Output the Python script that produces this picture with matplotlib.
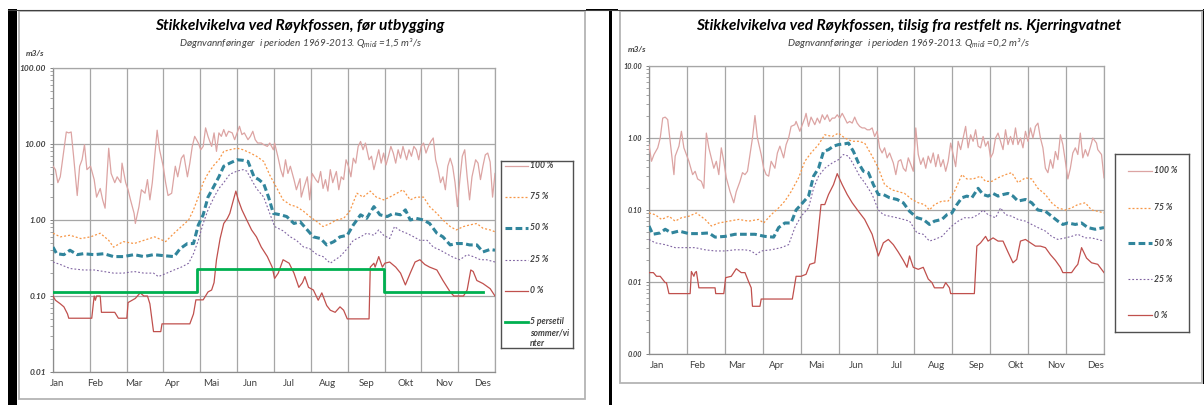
import matplotlib
matplotlib.use('Agg')
import matplotlib.pyplot as plt
from matplotlib.ticker import LogLocator, NullFormatter
from matplotlib.patches import Rectangle

plt.rcParams['font.family'] = ['Lato', 'DejaVu Sans']
plt.rcParams['mathtext.fontset'] = 'custom'
plt.rcParams['mathtext.rm'] = 'Lato:italic'
plt.rcParams['mathtext.it'] = 'Lato:italic'

W, H = 1204, 405

months = ['Jan', 'Feb', 'Mar', 'Apr', 'Mai', 'Jun', 'Jul', 'Aug', 'Sep', 'Okt', 'Nov', 'Des']
pct_labels = ['100 %', '75 %', '50 %', '25 %', '0 %']
green_label = ['5 persetil', 'sommer/vi', 'nter']

title1 = 'Stikkelvikelva ved Røykfossen, før utbygging'
subtitle1 = 'Døgnvannføringer  i perioden 1969-2013. $Q_{midi}$ =1,5 m³/s'
title2 = 'Stikkelvikelva ved Røykfossen, tilsig fra restfelt ns. Kjerringvatnet'
subtitle2 = 'Døgnvannføringer  i perioden 1969-2013. $Q_{midi}$ =0,2 m³/s'

# ---- venstre figur: før utbygging (m3/s, dag i året) ----
c1_d100 = [0, 2, 4, 6, 9, 11, 13, 15, 17, 20,
           22, 24, 26, 28, 31, 34, 36, 39, 41, 43,
           46, 48, 51, 53, 56, 57, 60, 62, 64, 67,
           68, 71, 73, 76, 78, 80, 82, 84, 86, 88,
           91, 93, 95, 98, 101, 103, 106, 108, 111, 113,
           115, 117, 120, 122, 124, 126, 128, 131, 133, 135,
           137, 139, 141, 143, 145, 148, 150, 152, 154, 156,
           158, 161, 163, 165, 167, 169, 172, 174, 177, 179,
           182, 183, 186, 188, 190, 192, 194, 196, 199, 201,
           204, 205, 207, 210, 212, 214, 217, 219, 221, 223,
           225, 227, 229, 231, 234, 236, 238, 240, 242, 244,
           246, 248, 250, 252, 254, 256, 258, 261, 263, 265,
           267, 269, 271, 273, 275, 277, 279, 281, 283, 285,
           287, 289, 292, 294, 296, 298, 300, 302, 304, 306,
           308, 310, 312, 314, 316, 318, 320, 322, 324, 326,
           328, 330, 332, 334, 336, 338, 340, 342, 344, 346,
           349, 351, 353, 355, 357, 359, 361, 363, 365]
c1_q100 = [5.1, 4.6, 3.1, 3.7, 8.4, 14.4, 14.0, 14.4, 6.9, 2.1,
           5.1, 6.2, 9.8, 4.6, 5.1, 3.4, 2.0, 2.6, 1.84, 1.43,
           8.8, 4.1, 3.1, 3.7, 3.1, 5.6, 3.1, 2.5, 1.84, 1.22,
           0.90, 1.5, 2.5, 2.25, 3.4, 1.84, 3.1, 6.9, 15.2, 8.4,
           5.1, 3.1, 2.1, 2.25, 5.1, 3.7, 6.5, 7.2, 3.7, 5.6,
           9.3, 12.6, 10.3, 8.4, 9.3, 16.3, 12.6, 9.3, 14.0, 8.0,
           14.0, 12.6, 15.5, 12.6, 14.7, 14.0, 11.4, 14.0, 17.1, 13.3,
           14.0, 11.4, 12.6, 14.7, 11.4, 10.3, 10.3, 9.8, 9.3, 10.3,
           8.4, 10.3, 6.5, 4.6, 3.7, 6.2, 4.1, 5.1, 3.4, 2.5,
           3.5, 2.0, 2.6, 3.7, 1.84, 4.1, 3.4, 3.1, 4.35, 2.6,
           3.4, 2.4, 4.6, 3.1, 4.35, 2.5, 3.7, 3.4, 6.2, 5.1,
           3.7, 6.5, 5.6, 9.3, 10.8, 8.4, 10.3, 6.2, 6.9, 4.6,
           6.2, 8.4, 5.6, 7.6, 5.3, 6.9, 9.3, 7.6, 5.6, 8.4,
           6.5, 9.3, 6.2, 8.4, 6.9, 9.3, 8.4, 6.2, 9.3, 10.3,
           7.6, 9.3, 10.8, 12.0, 6.2, 4.6, 3.1, 3.7, 2.5, 5.1,
           6.5, 5.1, 3.1, 1.5, 3.4, 6.9, 8.4, 3.7, 1.84, 3.7,
           6.2, 5.6, 3.4, 5.1, 7.2, 7.6, 5.8, 2.0, 4.1]

c1_d75 = [0, 6, 14, 23, 31, 39, 46, 50, 58, 67,
          75, 84, 93, 100, 106, 112, 116, 120, 124, 128,
          133, 137, 141, 146, 152, 157, 163, 168, 174, 179,
          185, 190, 196, 201, 207, 212, 218, 223, 229, 234,
          240, 245, 251, 256, 262, 267, 273, 278, 284, 289,
          295, 300, 306, 311, 317, 322, 328, 333, 339, 344,
          350, 355, 361, 365]
c1_q75 = [0.67, 0.60, 0.63, 0.57, 0.60, 0.67, 0.54, 0.44, 0.52, 0.49,
          0.54, 0.60, 0.52, 0.67, 0.82, 1.0, 1.36, 2.0, 3.1, 4.1,
          5.3, 6.2, 8.0, 8.4, 8.8, 8.4, 7.6, 6.9, 5.9, 3.9,
          2.6, 1.84, 1.58, 1.5, 1.3, 1.11, 0.95, 0.82, 0.9, 1.0,
          1.05, 1.3, 2.25, 2.0, 2.4, 2.0, 1.84, 2.0, 2.25, 2.5,
          1.84, 2.0, 2.0, 1.5, 1.22, 1.0, 0.82, 0.74, 0.82, 0.86,
          0.9, 0.78, 0.74, 0.70]

c1_d50 = [0, 3, 9, 14, 20, 25, 34, 42, 50, 58,
          67, 75, 83, 91, 100, 105, 111, 116, 120, 124,
          128, 133, 137, 141, 146, 152, 157, 161, 166, 170,
          174, 178, 182, 188, 193, 199, 204, 210, 215, 221,
          226, 232, 237, 243, 248, 254, 259, 265, 270, 276,
          281, 287, 291, 295, 300, 306, 311, 317, 322, 328,
          333, 339, 344, 350, 355, 361, 365]
c1_q50 = [0.44, 0.36, 0.35, 0.40, 0.35, 0.36, 0.35, 0.36, 0.33, 0.33,
          0.35, 0.33, 0.35, 0.34, 0.33, 0.42, 0.49, 0.49, 0.86, 1.17,
          2.0, 2.8, 3.7, 5.1, 5.6, 6.2, 6.1, 5.9, 3.7, 3.4,
          3.0, 2.0, 1.22, 1.17, 1.11, 0.90, 0.95, 0.74, 0.60, 0.57,
          0.47, 0.52, 0.60, 0.63, 0.86, 1.17, 1.05, 1.5, 1.17, 1.11,
          1.22, 1.17, 1.36, 1.0, 1.05, 1.0, 0.90, 0.67, 0.60, 0.47,
          0.49, 0.49, 0.47, 0.47, 0.38, 0.41, 0.40]

c1_d25 = [0, 6, 14, 25, 34, 42, 50, 58, 67, 75,
          83, 87, 94, 100, 106, 112, 116, 120, 124, 128,
          133, 137, 141, 146, 152, 157, 160, 163, 168, 174,
          179, 183, 190, 196, 201, 207, 212, 218, 223, 229,
          233, 237, 243, 248, 254, 259, 265, 269, 273, 278,
          282, 287, 292, 298, 303, 309, 314, 320, 325, 331,
          336, 342, 347, 353, 358, 365]
c1_q25 = [0.28, 0.26, 0.23, 0.22, 0.22, 0.21, 0.20, 0.20, 0.21, 0.20,
          0.20, 0.18, 0.20, 0.22, 0.24, 0.27, 0.36, 0.54, 0.90, 1.36,
          2.0, 2.6, 3.1, 4.0, 4.4, 4.6, 4.4, 3.6, 2.6, 2.0,
          1.22, 0.82, 0.72, 0.60, 0.54, 0.44, 0.42, 0.35, 0.33, 0.27,
          0.30, 0.33, 0.42, 0.54, 0.60, 0.67, 0.63, 0.74, 0.63, 0.57,
          0.82, 0.72, 0.67, 0.60, 0.54, 0.54, 0.44, 0.40, 0.36, 0.32,
          0.30, 0.35, 0.33, 0.30, 0.30, 0.28]

c1_d0 = [0, 2, 6, 9, 12, 13, 32, 34, 35, 36,
         39, 40, 42, 51, 54, 61, 62, 68, 72, 75,
         78, 80, 83, 89, 90, 113, 116, 118, 124, 128,
         131, 133, 135, 138, 141, 144, 146, 149, 151, 153,
         156, 160, 164, 168, 172, 177, 181, 183, 186, 190,
         195, 199, 203, 206, 208, 211, 215, 219, 222, 226,
         229, 233, 237, 240, 243, 261, 262, 265, 266, 269,
         272, 274, 278, 283, 287, 291, 295, 299, 303, 307,
         311, 317, 322, 328, 331, 339, 342, 345, 347, 350,
         355, 361, 365]
c1_q0 = [0.10, 0.088, 0.079, 0.072, 0.058, 0.051, 0.051, 0.10, 0.088, 0.10,
         0.10, 0.061, 0.061, 0.061, 0.051, 0.051, 0.082, 0.093, 0.11, 0.10,
         0.10, 0.079, 0.034, 0.034, 0.043, 0.043, 0.058, 0.089, 0.089, 0.113,
         0.12, 0.15, 0.30, 0.57, 0.90, 1.05, 1.22, 1.84, 2.4, 1.84,
         1.36, 1.0, 0.74, 0.60, 0.44, 0.33, 0.24, 0.17, 0.20, 0.30,
         0.27, 0.20, 0.13, 0.15, 0.18, 0.13, 0.12, 0.088, 0.11, 0.075,
         0.065, 0.061, 0.072, 0.065, 0.05, 0.05, 0.24, 0.27, 0.24, 0.33,
         0.24, 0.27, 0.28, 0.24, 0.20, 0.14, 0.20, 0.28, 0.30, 0.26,
         0.24, 0.22, 0.16, 0.113, 0.10, 0.10, 0.12, 0.22, 0.21, 0.16,
         0.146, 0.125, 0.10]

# 5-persentil sommer/vinter (trappefunksjon)
c1_dgreen = [0, 119, 273, 355]
c1_qgreen = [0.113, 0.225, 0.113, 0.113]

# ---- høyre figur: tilsig fra restfelt ----
c2_d100 = [0, 2, 4, 7, 9, 11, 13, 15, 17, 20,
           21, 24, 26, 28, 30, 32, 35, 37, 39, 42,
           44, 46, 48, 50, 52, 54, 56, 58, 60, 62,
           65, 68, 70, 73, 75, 77, 79, 81, 83, 85,
           87, 90, 92, 94, 96, 98, 101, 103, 105, 108,
           110, 112, 114, 117, 118, 121, 122, 125, 126, 128,
           130, 133, 135, 137, 139, 141, 143, 145, 147, 149,
           151, 153, 155, 157, 159, 161, 163, 165, 167, 169,
           171, 173, 175, 177, 179, 181, 183, 185, 187, 189,
           191, 193, 196, 198, 200, 202, 204, 206, 208, 210,
           212, 214, 216, 218, 220, 222, 224, 226, 228, 230,
           232, 234, 236, 238, 240, 242, 244, 246, 248, 250,
           252, 254, 256, 258, 260, 262, 264, 266, 268, 270,
           272, 274, 276, 278, 280, 282, 284, 286, 288, 290,
           292, 294, 296, 298, 300, 302, 304, 306, 308, 310,
           312, 314, 316, 318, 320, 322, 324, 326, 328, 330,
           332, 334, 336, 338, 340, 342, 344, 346, 348, 350,
           352, 355, 356, 359, 360, 363, 365]
c2_q100 = [0.81, 0.475, 0.59, 0.73, 1.0, 1.89, 1.95, 1.8, 0.90, 0.31,
           0.56, 0.77, 1.24, 0.73, 0.59, 0.475, 0.31, 0.345, 0.27, 0.25,
           0.20, 1.17, 0.73, 0.53, 0.38, 0.475, 0.31, 0.73, 0.475, 0.28,
           0.18, 0.126, 0.18, 0.25, 0.33, 0.31, 0.345, 0.59, 1.0, 2.05,
           1.0, 0.59, 0.38, 0.31, 0.295, 0.475, 0.38, 0.62, 0.77, 0.53,
           0.81, 1.0, 1.45, 1.53, 1.70, 1.24, 1.38, 1.89, 2.2, 1.45,
           1.95, 1.53, 1.89, 1.61, 2.1, 1.8, 2.1, 1.70, 1.89, 1.89,
           2.1, 1.89, 2.2, 1.89, 1.61, 1.70, 1.61, 1.95, 1.61, 1.45,
           1.38, 1.38, 1.30, 1.30, 1.38, 1.05, 1.24, 0.73, 0.62, 0.73,
           0.53, 0.62, 0.45, 0.31, 0.475, 0.50, 0.38, 0.345, 0.53, 0.43,
           0.345, 1.38, 0.59, 0.43, 0.53, 0.38, 0.56, 0.45, 0.62, 0.40,
           0.59, 0.40, 0.50, 0.345, 0.475, 0.85, 0.59, 0.40, 0.90, 0.69,
           1.0, 1.45, 0.73, 1.11, 0.90, 1.30, 0.77, 0.73, 1.05, 0.77,
           0.90, 0.53, 0.62, 1.0, 1.17, 0.90, 0.69, 1.30, 0.81, 1.05,
           0.81, 1.38, 0.81, 1.0, 0.73, 1.24, 0.90, 1.38, 1.0, 1.45,
           1.61, 1.0, 0.73, 0.38, 0.33, 0.50, 0.38, 0.65, 0.50, 1.11,
           0.81, 0.475, 0.27, 0.38, 0.62, 0.73, 0.59, 1.17, 0.53, 0.69,
           0.56, 0.85, 1.0, 0.85, 0.69, 0.59, 0.28]

c2_d75 = [0, 5, 10, 16, 21, 26, 32, 38, 45, 50,
          56, 64, 72, 80, 88, 92, 98, 104, 109, 114,
          120, 125, 130, 136, 141, 147, 152, 157, 163, 168,
          173, 179, 184, 189, 195, 200, 205, 211, 216, 221,
          225, 229, 235, 240, 245, 251, 255, 260, 266, 270,
          275, 280, 286, 291, 296, 302, 307, 312, 318, 323,
          328, 334, 339, 344, 350, 355, 360, 365]
c2_q75 = [0.091, 0.086, 0.074, 0.082, 0.070, 0.078, 0.082, 0.091, 0.074, 0.060,
          0.066, 0.070, 0.074, 0.070, 0.074, 0.066, 0.086, 0.107, 0.133, 0.18,
          0.28, 0.475, 0.62, 0.81, 1.11, 1.05, 1.17, 1.0, 0.90, 0.90,
          0.85, 0.56, 0.38, 0.225, 0.19, 0.18, 0.17, 0.14, 0.126, 0.119,
          0.10, 0.119, 0.133, 0.133, 0.18, 0.31, 0.27, 0.27, 0.295, 0.25,
          0.25, 0.28, 0.31, 0.33, 0.24, 0.28, 0.27, 0.20, 0.164, 0.126,
          0.107, 0.10, 0.107, 0.119, 0.126, 0.10, 0.096, 0.091]

c2_d50 = [0, 3, 9, 13, 18, 24, 32, 40, 48, 53,
          61, 69, 77, 85, 93, 100, 104, 109, 114, 118,
          122, 128, 132, 136, 140, 144, 148, 152, 157, 160,
          164, 168, 172, 176, 180, 184, 188, 193, 199, 204,
          209, 215, 220, 225, 229, 235, 239, 243, 247, 251,
          255, 259, 264, 268, 272, 276, 280, 284, 288, 292,
          296, 302, 307, 312, 318, 323, 328, 332, 336, 342,
          347, 352, 358, 365]
c2_q50 = [0.060, 0.046, 0.048, 0.054, 0.048, 0.051, 0.047, 0.047, 0.048, 0.042,
          0.043, 0.046, 0.046, 0.046, 0.043, 0.042, 0.057, 0.066, 0.066, 0.10,
          0.119, 0.156, 0.295, 0.38, 0.65, 0.69, 0.77, 0.81, 0.83, 0.85,
          0.65, 0.45, 0.345, 0.33, 0.225, 0.164, 0.164, 0.148, 0.14, 0.126,
          0.096, 0.078, 0.074, 0.063, 0.070, 0.074, 0.086, 0.091, 0.119, 0.148,
          0.156, 0.148, 0.20, 0.164, 0.156, 0.17, 0.156, 0.164, 0.17, 0.156,
          0.133, 0.14, 0.126, 0.10, 0.096, 0.082, 0.070, 0.063, 0.066, 0.063,
          0.066, 0.057, 0.054, 0.057]

c2_d25 = [0, 5, 13, 21, 29, 37, 45, 53, 61, 69,
          77, 82, 86, 90, 98, 106, 112, 117, 122, 128,
          132, 136, 141, 147, 152, 156, 160, 164, 169, 173,
          179, 184, 188, 193, 199, 204, 209, 215, 220, 225,
          229, 235, 239, 243, 248, 253, 259, 264, 268, 272,
          278, 282, 286, 291, 296, 302, 307, 312, 318, 323,
          328, 334, 339, 344, 350, 355, 360, 365]
c2_q25 = [0.039, 0.035, 0.033, 0.030, 0.030, 0.030, 0.028, 0.027, 0.027, 0.028,
          0.028, 0.027, 0.024, 0.027, 0.028, 0.030, 0.033, 0.057, 0.082, 0.107,
          0.20, 0.295, 0.38, 0.45, 0.50, 0.59, 0.56, 0.43, 0.295, 0.24,
          0.164, 0.10, 0.086, 0.082, 0.078, 0.074, 0.070, 0.048, 0.046, 0.037,
          0.039, 0.043, 0.051, 0.060, 0.070, 0.078, 0.078, 0.086, 0.10, 0.086,
          0.078, 0.107, 0.086, 0.082, 0.074, 0.070, 0.063, 0.057, 0.051, 0.043,
          0.039, 0.041, 0.043, 0.046, 0.041, 0.041, 0.039, 0.037]

c2_d0 = [0, 3.5, 6, 9, 13, 14, 16, 33, 34, 36,
         37, 38, 40, 43, 53, 53.5, 60, 61.5, 66, 70,
         74, 77, 80, 82, 83, 89, 90, 115, 118, 122,
         126, 129, 133, 135, 138, 141, 144, 148, 151, 155,
         159, 163, 168, 173, 179, 184, 188, 192, 196, 200,
         204, 207, 209, 212, 216, 220, 224, 227, 229, 236,
         238, 241, 242, 261, 263, 266, 270, 272, 276, 280,
         284, 288, 292, 295, 298, 302, 306, 310, 314, 318,
         322, 326, 330, 332, 339, 342, 344, 347, 351, 355,
         360, 365]
c2_q0 = [0.0135, 0.0135, 0.012, 0.012, 0.0098, 0.0098, 0.0069, 0.0069, 0.014, 0.012,
         0.0135, 0.014, 0.0083, 0.0083, 0.0083, 0.0069, 0.0069, 0.0115, 0.012, 0.0153,
         0.0135, 0.0135, 0.010, 0.0083, 0.0046, 0.0046, 0.0058, 0.0058, 0.012, 0.012,
         0.0128, 0.0176, 0.0185, 0.037, 0.119, 0.119, 0.164, 0.225, 0.32, 0.225,
         0.164, 0.126, 0.096, 0.074, 0.046, 0.023, 0.035, 0.039, 0.033, 0.026,
         0.020, 0.016, 0.023, 0.016, 0.015, 0.016, 0.011, 0.0098, 0.0083, 0.0083,
         0.0098, 0.0083, 0.0069, 0.0069, 0.0315, 0.035, 0.043, 0.037, 0.041, 0.037,
         0.037, 0.026, 0.0185, 0.0206, 0.037, 0.039, 0.035, 0.0315, 0.0315, 0.030,
         0.024, 0.020, 0.016, 0.0135, 0.0135, 0.016, 0.0176, 0.030, 0.0215, 0.0185,
         0.0176, 0.0135]

# linjestiler (Excel-farger)
styles = {
    '100 %': dict(color='#dca4a3', lw=0.9, ls='-'),
    '75 %': dict(color='#f79646', lw=0.9, ls=(0, (1.6, 1.6))),
    '50 %': dict(color='#31859c', lw=2.2, ls=(0, (2.2, 1.1))),
    '25 %': dict(color='#8064a2', lw=0.8, ls=(0, (1.6, 1.8))),
    '0 %': dict(color='#c0504d', lw=0.9, ls='-'),
}
green_style = dict(color='#00b050', lw=2.0, ls='-')
GRID = '#a6a6a6'
TXT = '#404040'


def fig_rect(x0, y0, x1, y1):
    # piksel (fra øverst til venstre) -> figurbrøk
    return [x0 / W, 1 - y1 / H, (x1 - x0) / W, (y1 - y0) / H]


def ftext(fig, x, y, s, **kw):
    return fig.text(x / W, 1 - y / H, s, **kw)


def draw_chart(ax, series, ylim, label_start, ysize):
    for lab, (d, q) in zip(pct_labels, series):
        ax.plot(d, q, **styles[lab], zorder=3 if lab != '50 %' else 4)
    ax.set_yscale('log')
    ax.set_xlim(0, 365)
    ax.set_ylim(*ylim)

    # y-akse
    decades = []
    v = ylim[0]
    while v <= ylim[1] * 1.001:
        decades.append(v)
        v *= 10
    ax.set_yticks(decades, labels=[f'{d:.2f}' for d in decades], fontsize=ysize,
                  fontstyle='italic', fontweight='bold', color=TXT)
    ax.yaxis.set_minor_locator(LogLocator(base=10, subs=range(2, 10), numticks=20))
    ax.yaxis.set_minor_formatter(NullFormatter())
    ax.tick_params(axis='y', which='major', length=2.5, width=0.7, color='#808080', pad=2.5)
    ax.tick_params(axis='y', which='minor', length=2, width=0.5, color='#808080')

    # x-akse: rutenett på månedsgrenser, etiketter forskjøvet som i Excel
    bounds = [i * 365 / 12 for i in range(13)]
    ax.set_xticks(bounds, labels=[''] * 13)
    ax.set_xticks([label_start + i * 32 for i in range(12)], labels=months, minor=True,
                  fontsize=7.0, color=TXT)
    ax.tick_params(axis='x', which='both', length=0, pad=5)

    ax.grid(True, which='major', color=GRID, lw=0.9)
    ax.set_axisbelow(True)
    for side in ['top', 'right']:
        ax.spines[side].set_color(GRID)
        ax.spines[side].set_linewidth(0.9)
    for side in ['left', 'bottom']:
        ax.spines[side].set_color('#8c8c8c')
        ax.spines[side].set_linewidth(0.9)


def draw_legend(fig, box, rows, line_x, text_x):
    lax = fig.add_axes(fig_rect(*box))
    lax.set_xlim(box[0], box[2])
    lax.set_ylim(box[3], box[1])
    lax.set_xticks([])
    lax.set_yticks([])
    for sp in lax.spines.values():
        sp.set_color('#505050')
        sp.set_linewidth(1.0)
    for labels, y, style in rows:
        lax.plot(line_x, [y, y], **style)
        for k, lab in enumerate(labels):
            lax.text(text_x, y + k * 11, lab, va='center', ha='left', fontsize=6.2,
                     fontstyle='italic', fontweight='bold', color=TXT)


fig = plt.figure(figsize=(W / 100, H / 100), dpi=100)

# ramme / tabellkanter fra skjermbildet
bg = fig.add_axes([0, 0, 1, 1], zorder=-5)
bg.set_xlim(0, W)
bg.set_ylim(H, 0)
bg.axis('off')
bg.plot([8, W], [9.5, 9.5], color='#404040', lw=0.8)
bg.add_patch(Rectangle((8, 8.5), 9, H, color='black', lw=0))
bg.add_patch(Rectangle((609, 8.5), 3, H, color='black', lw=0))
bg.add_patch(Rectangle((586, 8.5), 32, 2.5, color='black', lw=0))
bg.add_patch(Rectangle((1202.5, 8.5), 1.5, 375, color='black', lw=0))
bg.add_patch(Rectangle((19, 11), 566, 388, fill=False, edgecolor='#b4b4b4', lw=1.3))
bg.add_patch(Rectangle((619.5, 11), 582, 372, fill=False, edgecolor='#b4b4b4', lw=1.3))

# venstre diagram
ax1 = fig.add_axes(fig_rect(53, 68, 495, 372))
draw_chart(ax1, [(c1_d100, c1_q100), (c1_d75, c1_q75), (c1_d50, c1_q50),
                 (c1_d25, c1_q25), (c1_d0, c1_q0)], (0.01, 100), 3, 6.0)
ax1.plot(c1_dgreen, c1_qgreen, drawstyle='steps-post', **green_style, zorder=5)

ftext(fig, 300, 26, title1, ha='center', va='center', fontsize=11.2,
      fontweight='bold', fontstyle='italic', color='black')
ftext(fig, 301, 43, subtitle1, ha='center', va='center', fontsize=7.2,
      fontstyle='italic', color=TXT)
ftext(fig, 35, 53, 'm3/s', ha='center', va='center', fontsize=6.0,
      fontweight='bold', fontstyle='italic', color=TXT)

rows1 = [([lab], y, styles[lab]) for lab, y in zip(pct_labels, [166, 197, 228, 260, 291])]
rows1.append((green_label, 322, green_style))
draw_legend(fig, (501, 161, 573, 348), rows1, [505, 528], 530)

# høyre diagram
ax2 = fig.add_axes(fig_rect(649, 66, 1104, 354))
draw_chart(ax2, [(c2_d100, c2_q100), (c2_d75, c2_q75), (c2_d50, c2_q50),
                 (c2_d25, c2_q25), (c2_d0, c2_q0)], (0.001, 10), 6.5, 5.2)

ftext(fig, 909, 26, title2, ha='center', va='center', fontsize=11.2,
      fontweight='bold', fontstyle='italic', color='black')
ftext(fig, 909, 43, subtitle2, ha='center', va='center', fontsize=7.2,
      fontstyle='italic', color=TXT)
ftext(fig, 637, 50, 'm3/s', ha='center', va='center', fontsize=6.0,
      fontweight='bold', fontstyle='italic', color=TXT)

rows2 = [([lab], y, styles[lab]) for lab, y in zip(pct_labels, [171, 208, 243, 279, 315])]
draw_legend(fig, (1115, 154, 1189, 332), rows2, [1128, 1152], 1154)

fig.savefig('out.png', dpi=100)
